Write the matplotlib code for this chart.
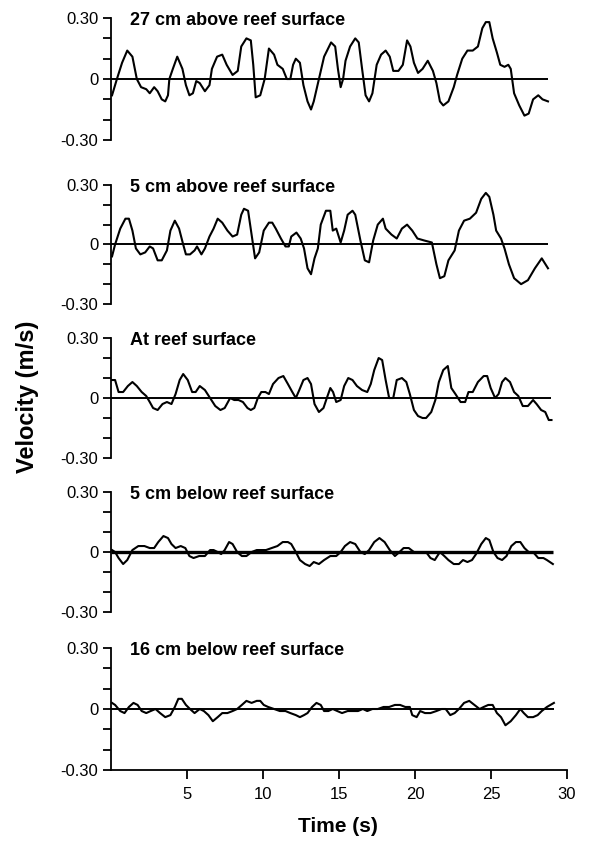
import numpy as np
import matplotlib
matplotlib.use("Agg")
import matplotlib.pyplot as plt
from matplotlib.ticker import FixedLocator

plt.rcParams['font.family'] = ['Liberation Sans', 'DejaVu Sans']

# velocity traces: time (s) and velocity (m/s)
t1 = [0.07, 0.39, 0.73, 1.07, 1.41, 1.70, 1.98, 2.32, 2.55, 2.84,
      3.07, 3.34, 3.57, 3.75, 3.84, 4.07, 4.36, 4.70, 4.93, 5.16,
      5.39, 5.61, 5.84, 6.18, 6.48, 6.64, 6.98, 7.32, 7.61, 8.00,
      8.34, 8.57, 8.91, 9.20, 9.36, 9.52, 9.82, 10.11, 10.39, 10.73,
      10.95, 11.30, 11.57, 11.80, 11.98, 12.16, 12.43, 12.66, 12.93, 13.16,
      13.34, 13.68, 14.02, 14.48, 14.75, 14.93, 15.11, 15.27, 15.43, 15.73,
      16.07, 16.30, 16.52, 16.75, 16.98, 17.20, 17.48, 17.77, 18.07, 18.34,
      18.57, 18.91, 19.20, 19.48, 19.70, 19.93, 20.20, 20.50, 20.84, 21.18,
      21.41, 21.64, 21.86, 22.20, 22.55, 22.77, 23.11, 23.45, 23.80, 24.14,
      24.43, 24.66, 24.89, 25.11, 25.39, 25.61, 25.89, 26.14, 26.30, 26.52,
      26.86, 27.20, 27.48, 27.77, 28.11, 28.39, 28.75]
v1 = [-0.08, 0.0, 0.08, 0.14, 0.11, 0.0, -0.04, -0.05, -0.07, -0.04,
      -0.06, -0.10, -0.11, -0.08, 0.0, 0.05, 0.11, 0.05, -0.03, -0.08,
      -0.07, -0.01, -0.02, -0.06, -0.03, 0.05, 0.11, 0.12, 0.07, 0.02,
      0.04, 0.16, 0.20, 0.19, 0.07, -0.09, -0.08, 0.0, 0.15, 0.12,
      0.07, 0.05, 0.0, 0.0, 0.07, 0.10, 0.08, -0.03, -0.11, -0.15,
      -0.11, 0.0, 0.11, 0.18, 0.16, 0.05, -0.04, 0.0, 0.09, 0.16,
      0.20, 0.18, 0.05, -0.08, -0.11, -0.07, 0.07, 0.12, 0.14, 0.11,
      0.04, 0.04, 0.07, 0.19, 0.16, 0.08, 0.03, 0.05, 0.09, 0.04,
      -0.02, -0.11, -0.13, -0.11, -0.04, 0.02, 0.10, 0.14, 0.14, 0.16,
      0.25, 0.28, 0.28, 0.20, 0.13, 0.07, 0.06, 0.07, 0.05, -0.07,
      -0.13, -0.18, -0.17, -0.10, -0.08, -0.10, -0.11]

t2 = [0.07, 0.27, 0.61, 0.95, 1.18, 1.41, 1.64, 1.93, 2.25, 2.55,
      2.77, 3.07, 3.34, 3.68, 3.91, 4.20, 4.48, 4.75, 4.93, 5.20,
      5.50, 5.66, 5.95, 6.18, 6.48, 6.75, 7.02, 7.32, 7.66, 8.00,
      8.30, 8.57, 8.75, 9.02, 9.25, 9.48, 9.75, 10.05, 10.39, 10.61,
      10.84, 11.18, 11.48, 11.70, 11.86, 12.20, 12.48, 12.70, 12.93, 13.16,
      13.39, 13.61, 13.80, 14.14, 14.43, 14.59, 14.82, 15.11, 15.34, 15.57,
      15.89, 16.07, 16.41, 16.70, 16.98, 17.25, 17.55, 17.89, 18.07, 18.45,
      18.80, 19.14, 19.48, 19.82, 20.16, 20.61, 21.11, 21.41, 21.64, 21.93,
      22.20, 22.61, 22.89, 23.23, 23.61, 24.02, 24.36, 24.66, 24.89, 25.16,
      25.34, 25.66, 25.89, 26.18, 26.52, 26.98, 27.43, 27.89, 28.34, 28.75]
v2 = [-0.06, 0.0, 0.08, 0.13, 0.13, 0.07, -0.02, -0.05, -0.04, -0.01,
      -0.02, -0.08, -0.08, -0.03, 0.07, 0.12, 0.08, 0.0, -0.05, -0.05,
      -0.03, -0.01, -0.05, -0.02, 0.04, 0.08, 0.13, 0.11, 0.07, 0.04,
      0.05, 0.15, 0.18, 0.17, 0.05, -0.07, -0.04, 0.07, 0.11, 0.11,
      0.08, 0.03, -0.01, -0.01, 0.04, 0.06, 0.03, -0.02, -0.12, -0.15,
      -0.07, -0.02, 0.10, 0.17, 0.17, 0.07, 0.08, 0.01, 0.07, 0.15,
      0.17, 0.15, 0.02, -0.08, -0.09, 0.02, 0.10, 0.13, 0.08, 0.05,
      0.03, 0.08, 0.10, 0.07, 0.03, 0.02, 0.01, -0.10, -0.17, -0.16,
      -0.08, -0.03, 0.07, 0.12, 0.13, 0.16, 0.23, 0.26, 0.24, 0.15,
      0.07, 0.03, -0.02, -0.10, -0.17, -0.20, -0.18, -0.12, -0.07, -0.12]

t3 = [0.07, 0.27, 0.50, 0.80, 1.11, 1.41, 1.70, 2.02, 2.32, 2.55,
      2.77, 3.07, 3.39, 3.68, 3.98, 4.25, 4.52, 4.75, 5.05, 5.34,
      5.57, 5.84, 6.18, 6.52, 6.86, 7.20, 7.48, 7.84, 8.11, 8.39,
      8.68, 8.98, 9.20, 9.43, 9.66, 9.89, 10.16, 10.39, 10.66, 11.02,
      11.34, 11.64, 11.93, 12.16, 12.39, 12.66, 12.93, 13.16, 13.39, 13.68,
      13.98, 14.20, 14.43, 14.61, 14.82, 15.11, 15.34, 15.61, 15.89, 16.18,
      16.52, 16.86, 17.09, 17.32, 17.61, 17.84, 18.07, 18.30, 18.57, 18.80,
      19.14, 19.43, 19.66, 19.93, 20.20, 20.50, 20.73, 21.07, 21.34, 21.57,
      21.86, 22.16, 22.39, 22.66, 23.00, 23.30, 23.52, 23.80, 24.14, 24.52,
      24.75, 24.98, 25.27, 25.50, 25.73, 25.95, 26.25, 26.52, 26.80, 27.09,
      27.43, 27.77, 28.00, 28.30, 28.57, 28.80, 28.98]
v3 = [0.09, 0.09, 0.03, 0.03, 0.06, 0.08, 0.06, 0.03, 0.01, -0.02,
      -0.05, -0.06, -0.03, -0.02, -0.03, 0.02, 0.09, 0.12, 0.09, 0.03,
      0.03, 0.06, 0.04, 0.0, -0.04, -0.06, -0.05, 0.0, -0.01, -0.01,
      -0.02, -0.05, -0.06, -0.05, 0.0, 0.03, 0.03, 0.02, 0.07, 0.10,
      0.11, 0.07, 0.03, 0.0, 0.04, 0.09, 0.10, 0.07, -0.03, -0.07,
      -0.05, 0.0, 0.05, 0.03, -0.02, -0.01, 0.06, 0.10, 0.09, 0.06,
      0.04, 0.03, 0.07, 0.14, 0.20, 0.19, 0.09, 0.0, 0.0, 0.09,
      0.10, 0.08, 0.02, -0.06, -0.09, -0.10, -0.10, -0.07, -0.01, 0.08,
      0.14, 0.16, 0.05, 0.02, -0.02, -0.02, 0.03, 0.03, 0.08, 0.11,
      0.11, 0.05, 0.0, 0.02, 0.08, 0.10, 0.08, 0.03, 0.01, -0.04,
      -0.04, -0.01, -0.03, -0.06, -0.07, -0.11, -0.11]

t4 = [0.07, 0.27, 0.50, 0.80, 1.07, 1.41, 1.80, 2.20, 2.55, 2.84,
      3.11, 3.45, 3.75, 3.98, 4.25, 4.59, 4.89, 5.16, 5.43, 5.80,
      6.18, 6.52, 6.75, 7.02, 7.25, 7.48, 7.77, 8.00, 8.30, 8.61,
      8.91, 9.25, 9.59, 9.89, 10.20, 10.57, 10.95, 11.30, 11.64, 11.86,
      12.16, 12.43, 12.77, 13.07, 13.34, 13.68, 14.02, 14.43, 14.82, 15.11,
      15.39, 15.73, 16.07, 16.41, 16.70, 16.98, 17.32, 17.66, 18.00, 18.34,
      18.68, 18.98, 19.25, 19.59, 19.93, 20.34, 20.73, 21.02, 21.30, 21.64,
      21.93, 22.20, 22.55, 22.89, 23.16, 23.45, 23.75, 24.02, 24.36, 24.66,
      24.89, 25.16, 25.43, 25.73, 26.02, 26.34, 26.64, 26.93, 27.20, 27.48,
      27.77, 28.11, 28.45, 28.68, 29.07]
v4 = [0.01, 0.0, -0.03, -0.06, -0.04, 0.01, 0.03, 0.03, 0.02, 0.02,
      0.05, 0.08, 0.07, 0.04, 0.02, 0.03, 0.02, -0.02, -0.03, -0.02,
      -0.02, 0.01, 0.01, 0.0, -0.01, 0.01, 0.05, 0.04, 0.0, -0.02,
      -0.02, 0.0, 0.01, 0.01, 0.01, 0.02, 0.03, 0.05, 0.05, 0.04,
      0.0, -0.04, -0.06, -0.07, -0.05, -0.06, -0.04, -0.02, -0.02, 0.0,
      0.03, 0.05, 0.04, 0.0, -0.01, 0.01, 0.05, 0.07, 0.05, 0.01,
      -0.02, 0.0, 0.02, 0.02, 0.0, 0.0, 0.0, -0.03, -0.04, 0.0,
      -0.02, -0.04, -0.06, -0.06, -0.04, -0.05, -0.04, -0.01, 0.04, 0.07,
      0.06, 0.0, -0.03, -0.04, -0.02, 0.03, 0.05, 0.05, 0.02, 0.0,
      0.0, -0.03, -0.03, -0.04, -0.06]

t5 = [0.07, 0.27, 0.61, 0.89, 1.18, 1.48, 1.75, 2.02, 2.32, 2.61,
      2.93, 3.23, 3.57, 3.91, 4.20, 4.43, 4.66, 4.93, 5.20, 5.50,
      5.84, 6.11, 6.41, 6.70, 7.02, 7.32, 7.66, 8.00, 8.30, 8.61,
      8.91, 9.25, 9.59, 9.82, 10.05, 10.34, 10.73, 11.11, 11.48, 11.80,
      12.16, 12.43, 12.70, 12.93, 13.23, 13.52, 13.80, 14.02, 14.30, 14.59,
      14.89, 15.20, 15.57, 15.89, 16.25, 16.57, 16.86, 17.20, 17.55, 17.93,
      18.30, 18.68, 19.02, 19.36, 19.66, 19.82, 20.11, 20.34, 20.66, 21.02,
      21.41, 21.75, 22.02, 22.32, 22.61, 22.89, 23.23, 23.57, 23.91, 24.25,
      24.52, 24.82, 25.11, 25.39, 25.66, 25.95, 26.30, 26.64, 26.93, 27.16,
      27.43, 27.77, 28.07, 28.34, 28.68, 29.14]
v5 = [0.03, 0.02, -0.01, -0.02, 0.01, 0.03, 0.02, -0.01, -0.02, -0.01,
      0.0, -0.02, -0.04, -0.03, 0.01, 0.05, 0.05, 0.02, 0.0, -0.02,
      0.0, -0.01, -0.03, -0.06, -0.04, -0.02, -0.02, -0.01, 0.0, 0.02,
      0.04, 0.03, 0.04, 0.04, 0.02, 0.01, 0.0, -0.01, -0.01, -0.02,
      -0.03, -0.04, -0.03, -0.02, 0.01, 0.03, 0.02, -0.01, -0.01, 0.0,
      -0.01, -0.02, -0.01, -0.01, -0.01, 0.0, -0.01, 0.0, 0.0, 0.01,
      0.01, 0.02, 0.02, 0.01, 0.01, -0.03, -0.04, -0.01, -0.02, -0.02,
      -0.01, 0.0, 0.0, -0.03, -0.02, 0.0, 0.03, 0.04, 0.02, 0.0,
      0.01, 0.02, 0.02, -0.02, -0.04, -0.08, -0.06, -0.03, 0.0, -0.02,
      -0.04, -0.04, -0.03, -0.01, 0.01, 0.03]

titles = ['27 cm above reef surface', '5 cm above reef surface',
          'At reef surface', '5 cm below reef surface',
          '16 cm below reef surface']
series = [(t1, v1), (t2, v2), (t3, v3), (t4, v4), (t5, v5)]
zero_lw = [1.4, 1.4, 1.4, 2.4, 1.4]

yticks = [-0.30, 0, 0.30]
yticklabels = ['-0.30', '0', '0.30']
xticks = [5, 10, 15, 20, 25, 30]

# axes boxes in figure fraction (left, bottom, width, height)
boxes = [(0.1881, 0.8339, 0.7729, 0.1447),
         (0.1881, 0.6394, 0.7729, 0.1412),
         (0.1881, 0.4567, 0.7729, 0.1423),
         (0.1881, 0.2740, 0.7729, 0.1423),
         (0.1881, 0.0866, 0.7729, 0.1447)]

fig = plt.figure(figsize=(5.9, 8.43), dpi=100)

for i, ((t, v), title, box) in enumerate(zip(series, titles, boxes)):
    ax = fig.add_axes(box)
    ax.plot(t, v, color='black', lw=1.5)
    ax.hlines(0, 0, t[-1], color='black', lw=zero_lw[i])
    ax.set_xlim(0, 30)
    ax.set_ylim(-0.30, 0.30)
    ax.patch.set_visible(False)

    for s in ['top', 'right']:
        ax.spines[s].set_visible(False)
    ax.spines['left'].set_linewidth(1.3)
    ax.spines['left'].set_bounds(-0.30, 0.30)

    ax.yaxis.set_major_locator(FixedLocator(yticks))
    ax.set_yticklabels(yticklabels)
    ax.yaxis.set_minor_locator(FixedLocator([-0.2, -0.1, 0.1, 0.2]))
    ax.tick_params(axis='y', which='both', direction='out', length=6,
                   width=1.3, labelsize=12, pad=3)

    if i == len(series) - 1:
        ax.spines['bottom'].set_linewidth(1.3)
        ax.spines['bottom'].set_bounds(0, 30)
        ax.set_xticks(xticks)
        ax.tick_params(axis='x', direction='out', length=6.5, width=1.3,
                       labelsize=12, pad=6)
    else:
        ax.spines['bottom'].set_visible(False)
        ax.set_xticks([])

    ax.text(0.042, 0.945, title, transform=ax.transAxes, fontsize=13,
            fontweight='bold', ha='left', va='baseline')

fig.text(0.046, 0.529, 'Velocity (m/s)', rotation=90, fontsize=17,
         fontweight='bold', ha='center', va='center')
fig.text(0.572, 0.019, 'Time (s)', fontsize=15, fontweight='bold',
         ha='center', va='center')

fig.savefig('out.png', dpi=100)
